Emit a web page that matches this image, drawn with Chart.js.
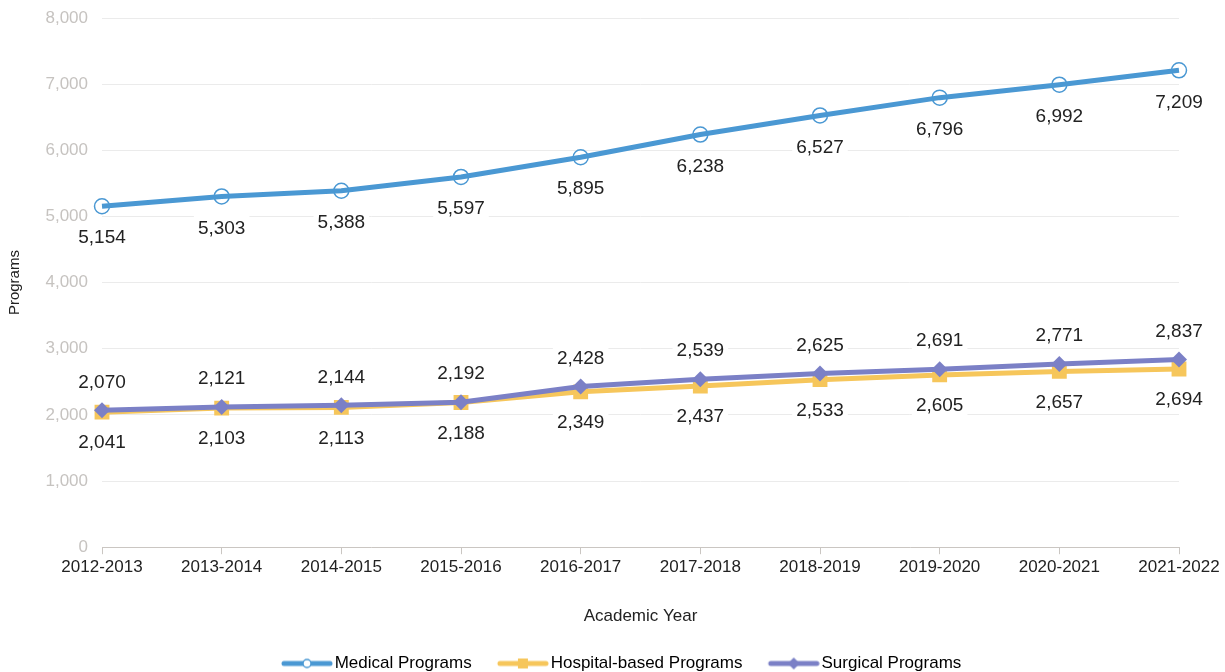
<!DOCTYPE html>
<html>
<head>
<meta charset="utf-8">
<script src="https://cdn.jsdelivr.net/npm/chart.js@4"></script>
<style>
  html, body { margin: 0; padding: 0; background: #fff; }
  #wrap { width: 1225px; height: 672px; }
</style>
</head>
<body>
<div id="wrap"><canvas id="programsChart"></canvas></div>
<script>
const years = ['2012-2013', '2013-2014', '2014-2015', '2015-2016', '2016-2017',
  '2017-2018', '2018-2019', '2019-2020', '2020-2021', '2021-2022'];
const medical = [5154, 5303, 5388, 5597, 5895, 6238, 6527, 6796, 6992, 7209];
const hospital = [2041, 2103, 2113, 2188, 2349, 2437, 2533, 2605, 2657, 2694];
const surgical = [2070, 2121, 2144, 2192, 2428, 2539, 2625, 2691, 2771, 2837];

const blue = '#4a98d3';
const yellow = '#f6c65b';
const purple = '#7b80c6';
const fontFam = '"Liberation Sans", Arial, sans-serif';

// legend swatch: a short thick line with the marker in the middle,
// drawn in the right part of a wider canvas so the text sits right next to it
function legendIcon(color, style) {
  const c = document.createElement('canvas');
  c.width = 76; c.height = 18;
  const g = c.getContext('2d');
  const x0 = 24, x1 = 76, mid = 50;
  g.strokeStyle = color;
  g.lineWidth = 5;
  g.lineCap = 'round';
  g.beginPath(); g.moveTo(x0 + 3, 9); g.lineTo(x1 - 3, 9); g.stroke();
  if (style === 'circle') {
    g.lineWidth = 1.5;
    g.fillStyle = '#fff';
    g.beginPath(); g.arc(mid, 9, 4, 0, Math.PI * 2); g.fill(); g.stroke();
  } else if (style === 'rect') {
    g.fillStyle = color;
    g.fillRect(mid - 5, 4, 10, 10);
  } else {
    g.fillStyle = color;
    g.beginPath(); g.moveTo(mid, 3); g.lineTo(mid + 6, 9); g.lineTo(mid, 15); g.lineTo(mid - 6, 9); g.closePath(); g.fill();
  }
  return c;
}

// value labels with a white box behind them
const valueLabels = {
  id: 'valueLabels',
  afterDatasetsDraw(chart) {
    const ctx = chart.ctx;
    ctx.save();
    ctx.font = '19px ' + fontFam;
    ctx.textAlign = 'center';
    ctx.textBaseline = 'middle';
    chart.data.datasets.forEach((ds, i) => {
      const meta = chart.getDatasetMeta(i);
      meta.data.forEach((pt, j) => {
        const txt = ds.data[j].toLocaleString('en-US');
        const y = pt.y + ds.labelOffset;
        const w = ctx.measureText(txt).width;
        ctx.fillStyle = '#fff';
        ctx.fillRect(pt.x - w / 2 - 4, y - 12, w + 8, 24);
        ctx.fillStyle = '#222';
        ctx.fillText(txt, pt.x, y + 1);
      });
    });
    ctx.restore();
  }
};

const ctx = document.getElementById('programsChart');
new Chart(ctx, {
  type: 'line',
  data: {
    labels: years,
    datasets: [{
      label: 'Medical Programs',
      data: medical,
      borderColor: blue,
      backgroundColor: blue,
      borderWidth: 5,
      pointStyle: 'circle',
      pointRadius: 7.5,
      pointBorderWidth: 1.5,
      pointBackgroundColor: 'rgba(255,255,255,0)',
      pointBorderColor: blue,
      labelOffset: 31,
      icon: legendIcon(blue, 'circle'),
      order: 0
    }, {
      label: 'Hospital-based Programs',
      data: hospital,
      borderColor: yellow,
      backgroundColor: yellow,
      borderWidth: 5,
      pointStyle: 'rect',
      pointRadius: 10.5,
      pointBorderWidth: 0,
      labelOffset: 30,
      icon: legendIcon(yellow, 'rect'),
      order: 2
    }, {
      label: 'Surgical Programs',
      data: surgical,
      borderColor: purple,
      backgroundColor: purple,
      borderWidth: 5,
      pointStyle: 'rectRot',
      pointRadius: 8,
      pointBorderWidth: 0,
      labelOffset: -29,
      icon: legendIcon(purple, 'rectRot'),
      order: 1
    }]
  },
  options: {
    responsive: true,
    maintainAspectRatio: false,
    animation: false,
    layout: { padding: { top: 0, right: 0, left: 0, bottom: -10 } },
    scales: {
      x: {
        offset: false,
        grid: { drawOnChartArea: false, color: '#cac6c2', tickLength: 7 },
        border: { color: '#cac6c2' },
        ticks: { color: '#222', font: { size: 17, family: fontFam }, padding: 3, maxRotation: 0 },
        title: { display: true, text: 'Academic Year', color: '#222', font: { size: 17, family: fontFam }, padding: { top: 26, bottom: 20 } },
        afterFit: scale => { scale.paddingRight = 46; }
      },
      y: {
        min: 0,
        max: 8000,
        ticks: {
          stepSize: 1000,
          color: '#c6c3c0',
          font: { size: 17, family: fontFam },
          padding: 14,
          callback: v => v.toLocaleString('en-US')
        },
        grid: { color: '#ebebeb', drawTicks: false },
        border: { display: false },
        title: { display: true, text: 'Programs', color: '#222', font: { size: 15, family: fontFam }, padding: { top: 6, bottom: 0 } },
        afterFit: scale => { scale.width = 102; scale.paddingTop = 18; }
      }
    },
    plugins: {
      tooltip: { enabled: false },
      legend: {
        position: 'bottom',
        labels: {
          usePointStyle: true,
          pointStyleWidth: 62.5,
          boxHeight: 17,
          padding: 8,
          color: '#222',
          font: { size: 17, family: fontFam },
          generateLabels: chart => chart.data.datasets.map((ds, i) => ({
            text: ds.label,
            pointStyle: ds.icon,
            fillStyle: ds.borderColor,
            strokeStyle: ds.borderColor,
            lineWidth: 0,
            datasetIndex: i,
            hidden: false
          }))
        }
      }
    }
  },
  plugins: [valueLabels]
});
</script>
</body>
</html>
